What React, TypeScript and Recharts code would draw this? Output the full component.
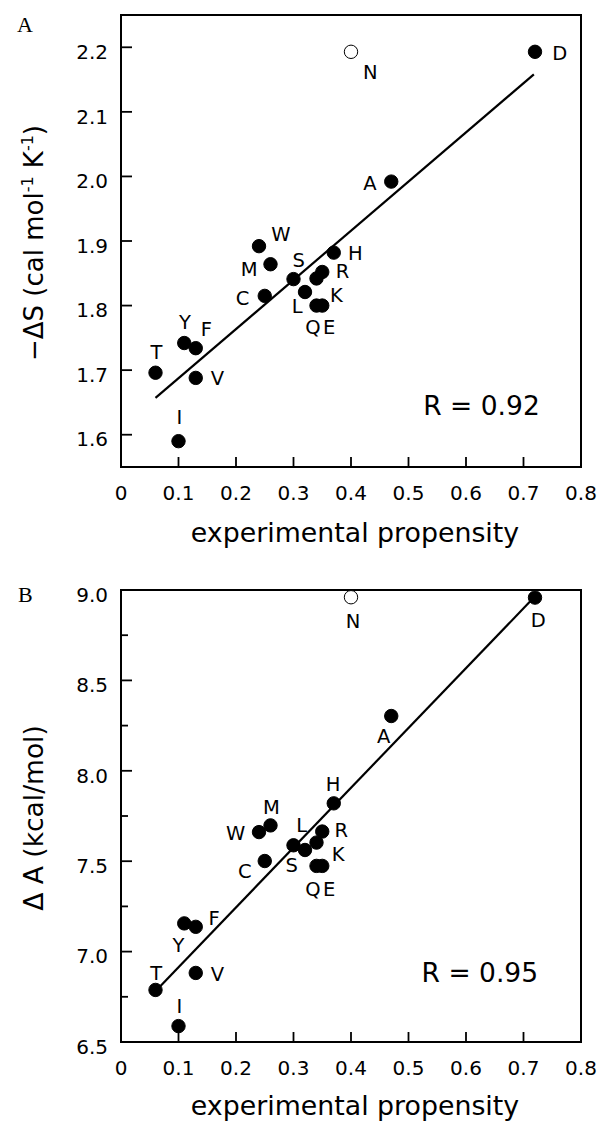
import React from "react";
import {
  ScatterChart,
  Scatter,
  XAxis,
  YAxis,
  ReferenceArea,
  ReferenceLine,
  ReferenceDot,
  Label,
} from "recharts";

const residues = ["T", "I", "Y", "F", "V", "C", "W", "M", "S", "L", "K", "Q", "R", "E", "H", "A", "N", "D"];
const propensity = [0.06, 0.1, 0.11, 0.13, 0.13, 0.25, 0.24, 0.26, 0.3, 0.32, 0.34, 0.34, 0.35, 0.35, 0.37, 0.47, 0.4, 0.72];
const entropy = [1.696, 1.59, 1.742, 1.734, 1.688, 1.815, 1.892, 1.864, 1.841, 1.821, 1.842, 1.8, 1.852, 1.8, 1.882, 1.992, 2.193, 2.193];
const deltaA = [6.788, 6.588, 7.156, 7.137, 6.882, 7.501, 7.661, 7.698, 7.588, 7.562, 7.603, 7.474, 7.664, 7.474, 7.82, 8.303, 8.96, 8.958];
const openResidues = ["N"];

// fitted lines (end points)
const fitAX = [0.06, 0.718];
const fitAY = [1.657, 2.158];
const fitBX = [0.062, 0.718];
const fitBY = [6.788, 8.958];

const xTicks = [0, 0.1, 0.2, 0.3, 0.4, 0.5, 0.6, 0.7, 0.8];
const yTicksA = [1.6, 1.7, 1.8, 1.9, 2.0, 2.1, 2.2];
const yTicksB = [6.5, 6.75, 7.0, 7.25, 7.5, 7.75, 8.0, 8.25, 8.5, 8.75, 9.0];

const rTextA = "R = 0.92";
const rTextB = "R = 0.95";

// label offsets in px from the dot centre
const offsetsA: Record<string, [number, number]> = {
  T: [1, -20.7], I: [1, -24], Y: [0.7, -21.3], F: [10.7, -19], V: [21.7, 0.3],
  C: [-22.3, 1.7], W: [22, -12.7], M: [-21.3, 4.3], S: [5.3, -19], L: [-7.7, 14],
  K: [20, 16], Q: [-3.5, 21.5], R: [20.3, -1], E: [7, 21.5], H: [21.7, 0.7],
  A: [-21.3, 1], N: [19.3, 20.3], D: [24.7, 1],
};
const offsetsB: Record<string, [number, number]> = {
  T: [0.7, -17], I: [1, -20], Y: [-5.7, 21.7], F: [18.3, -8.7], V: [21.7, 1],
  C: [-20, 10], W: [-23.3, 0.7], M: [1, -18.7], S: [-1.7, 19.7], L: [-3.3, -24.7],
  K: [21.7, 11], Q: [-3.5, 23.3], R: [19, -2], E: [7, 23.3], H: [-0.7, -19],
  A: [-7.7, 19.9], N: [2, 23.5], D: [3.3, 22.3],
};

const FONT = '"DejaVu Sans", sans-serif';

const dataA = residues.map((r, i) => ({ name: r, x: propensity[i], y: entropy[i] }));
const dataB = residues.map((r, i) => ({ name: r, x: propensity[i], y: deltaA[i] }));

function makeDot(offsets: Record<string, [number, number]>) {
  return (props: any) => {
    const { cx, cy, payload } = props;
    const open = openResidues.includes(payload.name);
    const [dx, dy] = offsets[payload.name] || [0, 0];
    return (
      <g>
        <circle cx={cx} cy={cy} r={6.7} fill={open ? "#fff" : "#000"} stroke="#000" strokeWidth={1} />
        <text x={cx + dx} y={cy + dy + 7.1} textAnchor="middle" fontFamily={FONT} fontSize={19.5} fill="#000">
          {payload.name}
        </text>
      </g>
    );
  };
}

function XTick(props: any) {
  const { x, y, payload } = props;
  const v = payload.value;
  return (
    <g>
      <line x1={x} y1={y} x2={x} y2={y - 10} stroke="#000" strokeWidth={1.8} />
      <text x={x} y={y + 32.5} textAnchor="middle" fontFamily={FONT} fontSize={20} fill="#000">
        {v === 0 ? "0" : v.toFixed(1)}
      </text>
    </g>
  );
}

function YTick(props: any) {
  const { x, y, payload } = props;
  const v = payload.value;
  return (
    <g>
      <line x1={x} y1={y} x2={x + 11} y2={y} stroke="#000" strokeWidth={1.8} />
      <text x={x - 13} y={y + 11.7} textAnchor="end" fontFamily={FONT} fontSize={20} fill="#000">
        {v.toFixed(1)}
      </text>
    </g>
  );
}

function YTickB(props: any) {
  const { x, y, payload } = props;
  const v = payload.value;
  const major = Math.abs(v * 2 - Math.round(v * 2)) < 1e-6;
  return (
    <g>
      <line x1={x} y1={y} x2={x + (major ? 11 : 7)} y2={y} stroke="#000" strokeWidth={1.8} />
      {major && (
        <text x={x - 13} y={y + 11.7} textAnchor="end" fontFamily={FONT} fontSize={20} fill="#000">
          {v.toFixed(1)}
        </text>
      )}
    </g>
  );
}

const xTitle = (dyBase: number) => (props: any) => {
  const vb = props.viewBox;
  return (
    <text x={vb.x + vb.width / 2 + 4} y={vb.y + dyBase} textAnchor="middle" fontFamily={FONT} fontSize={26.8} fill="#000">
      experimental propensity
    </text>
  );
};

const yTitleA = (props: any) => {
  const vb = props.viewBox;
  const cx = 43;
  const cy = vb.y + vb.height / 2 + 2;
  return (
    <text transform={`translate(${cx},${cy}) rotate(-90)`} textAnchor="middle" fontFamily={FONT} fontSize={26} fill="#000">
      −ΔS (cal mol
      <tspan fontSize={16} dy={-10}>-1</tspan>
      <tspan dy={10}> K</tspan>
      <tspan fontSize={16} dy={-10}>-1</tspan>
      <tspan dy={10}>)</tspan>
    </text>
  );
};

const yTitleB = (props: any) => {
  const vb = props.viewBox;
  const cx = 43;
  const cy = vb.y + vb.height / 2 + 2;
  return (
    <text transform={`translate(${cx},${cy}) rotate(-90)`} textAnchor="middle" fontFamily={FONT} fontSize={26.5} fill="#000">
      Δ A (kcal/mol)
    </text>
  );
};

const rLabel = (text: string) => (props: any) => (
  <text x={props.cx} y={props.cy} textAnchor="middle" fontFamily={FONT} fontSize={26.5} fill="#000">
    {text}
  </text>
);

export default function App() {
  return (
    <div style={{ position: "absolute", left: 0, top: 0, width: 602, height: 1125, background: "#fff" }}>
      <div style={{ position: "absolute", left: 0, top: 0 }}>
        <ScatterChart width={602} height={560} margin={{ top: 15, right: 21, bottom: 0, left: 0 }}>
          <XAxis
            type="number"
            dataKey="x"
            domain={[0, 0.8]}
            ticks={xTicks}
            interval={0}
            tickSize={0}
            tickMargin={0}
            tickLine={false}
            axisLine={false}
            tick={(p: any) => <XTick {...p} />}
            height={93}
            allowDataOverflow
          >
            <Label content={xTitle(75)} />
          </XAxis>
          <YAxis
            type="number"
            dataKey="y"
            domain={[1.55, 2.25]}
            ticks={yTicksA}
            interval={0}
            tickSize={0}
            tickMargin={0}
            tickLine={false}
            axisLine={false}
            tick={(p: any) => <YTick {...p} />}
            width={121}
            allowDataOverflow
          >
            <Label content={yTitleA} />
          </YAxis>
          <ReferenceArea x1={0} x2={0.8} y1={1.55} y2={2.25} fill="none" fillOpacity={0} stroke="#000" strokeWidth={2} />
          <ReferenceLine
            segment={[
              { x: fitAX[0], y: fitAY[0] },
              { x: fitAX[1], y: fitAY[1] },
            ]}
            stroke="#000"
            strokeWidth={2.2}
          />
          <ReferenceDot x={0.627} y={1.631} r={0} shape={rLabel(rTextA)} />
          <Scatter data={dataA} shape={makeDot(offsetsA)} isAnimationActive={false} />
        </ScatterChart>
      </div>
      <div style={{ position: "absolute", left: 0, top: 560 }}>
        <ScatterChart width={602} height={565} margin={{ top: 30, right: 21, bottom: 0, left: 0 }}>
          <XAxis
            type="number"
            dataKey="x"
            domain={[0, 0.8]}
            ticks={xTicks}
            interval={0}
            tickSize={0}
            tickMargin={0}
            tickLine={false}
            axisLine={false}
            tick={(p: any) => <XTick {...p} />}
            height={83}
            allowDataOverflow
          >
            <Label content={xTitle(73)} />
          </XAxis>
          <YAxis
            type="number"
            dataKey="y"
            domain={[6.5, 9.0]}
            ticks={yTicksB}
            interval={0}
            tickSize={0}
            tickMargin={0}
            tickLine={false}
            axisLine={false}
            tick={(p: any) => <YTickB {...p} />}
            width={121}
            allowDataOverflow
          >
            <Label content={yTitleB} />
          </YAxis>
          <ReferenceArea x1={0} x2={0.8} y1={6.5} y2={9.0} fill="none" fillOpacity={0} stroke="#000" strokeWidth={2} />
          <ReferenceLine
            segment={[
              { x: fitBX[0], y: fitBY[0] },
              { x: fitBX[1], y: fitBY[1] },
            ]}
            stroke="#000"
            strokeWidth={2.2}
          />
          <ReferenceDot x={0.624} y={6.831} r={0} shape={rLabel(rTextB)} />
          <Scatter data={dataB} shape={makeDot(offsetsB)} isAnimationActive={false} />
        </ScatterChart>
      </div>
      <svg width={602} height={1125} style={{ position: "absolute", left: 0, top: 0, pointerEvents: "none" }}>
        <text x={17} y={32} fontFamily='"Liberation Serif", serif' fontSize={22} fill="#000">A</text>
        <text x={18} y={602} fontFamily='"Liberation Serif", serif' fontSize={22} fill="#000">B</text>
      </svg>
    </div>
  );
}
